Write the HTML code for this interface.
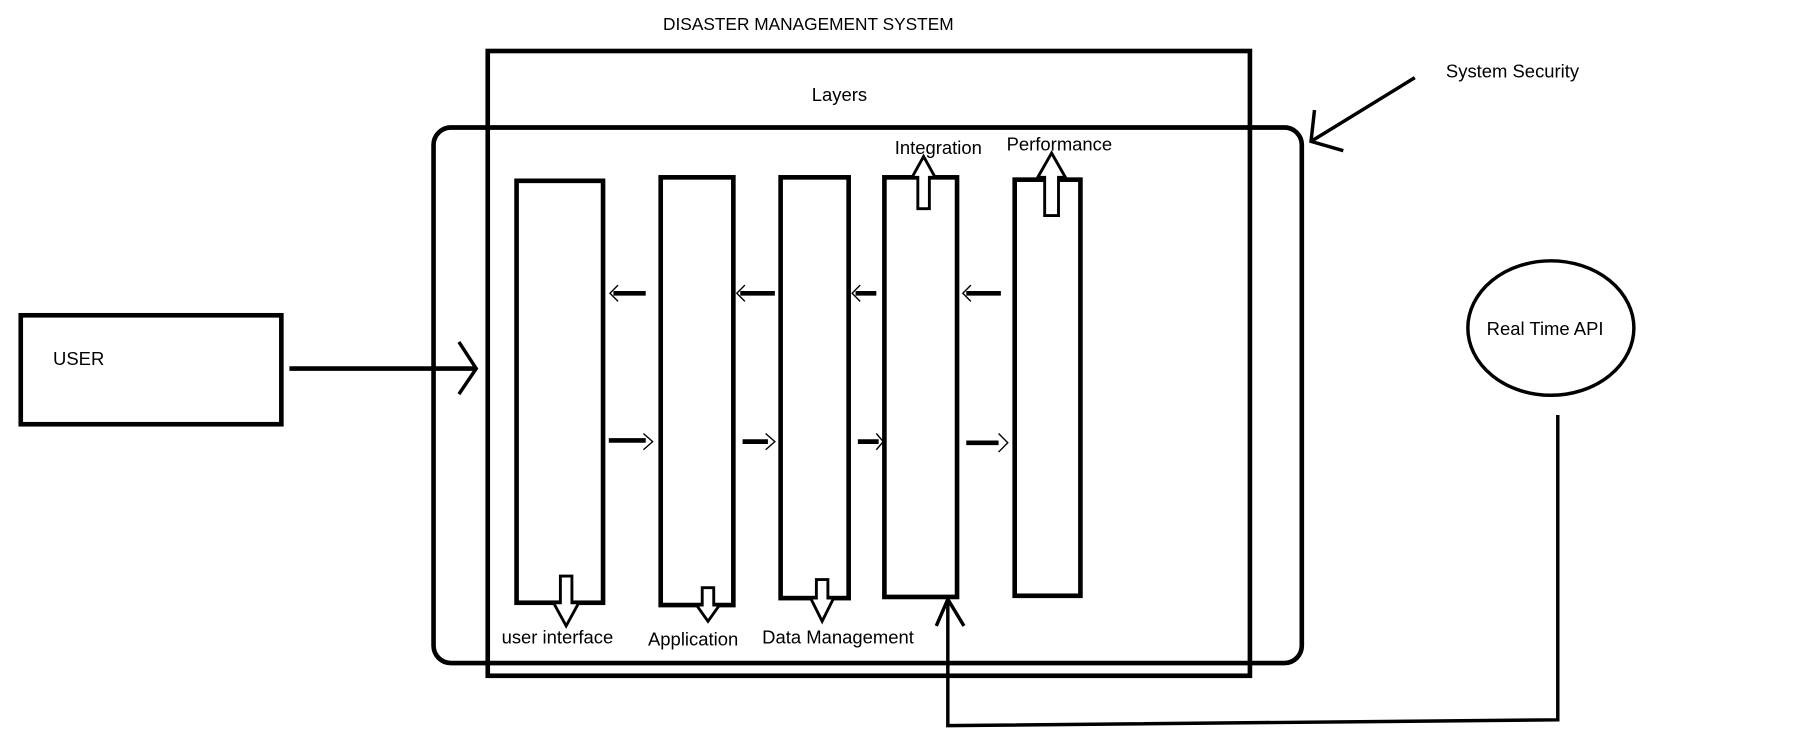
<!DOCTYPE html>
<html><head><style>html,body{margin:0;padding:0;background:#fff;}svg{display:block}</style></head>
<body>
<svg width="1808" height="743" viewBox="0 0 1568 641" preserveAspectRatio="none" xmlns="http://www.w3.org/2000/svg" font-family="Liberation Sans Narrow, Liberation Sans, sans-serif" font-size="16">
<g fill="none" stroke="#000" stroke-width="4">
<rect x="423" y="44" width="661" height="539"/>
<rect x="376" y="110" width="753" height="462" rx="15"/>
<rect x="18" y="272" width="226" height="94"/>
<rect x="448" y="156" width="75" height="364"/>
<rect x="573" y="153" width="63" height="369"/>
<rect x="677" y="153" width="59" height="363"/>
<rect x="767" y="153" width="63" height="362"/>
<rect x="880" y="155" width="57" height="359"/>
<ellipse cx="1345" cy="283" rx="72" ry="58" stroke-width="3"/>
<path d="M251 318 H413"/>
<path d="M398 295 L413 318 L398 340" stroke-width="3"/>
<path d="M1227 67 L1137 122" stroke-width="3"/>
<path d="M1140 95 L1137 122 L1165 130" stroke-width="3"/>
<path d="M1351 358 V621 L822 626 V518" stroke-width="3"/>
<path d="M812 540 L822 517 L836 540" stroke-width="3"/>
</g>
<g stroke="#000" stroke-width="4">
<path d="M532 253 H560 M642 253 H672 M742 253 H760 M838 253 H868"/>
<path d="M528 380 H560 M644 381 H666 M744 381 H762 M838 382 H866"/>
</g>
<g fill="none" stroke="#000" stroke-width="1.2">
<path d="M536 246 L529 253 L536 260 M646 246 L639 253 L646 260 M746 246 L739 253 L746 260 M842 246 L835 253 L842 260"/>
<path d="M558 374 L566 381 L558 388 M664 374 L672 381 L664 388 M760 374 L766 381 L760 388 M866 374 L874 382 L866 390"/>
</g>
<g fill="#fff" stroke="#000" stroke-width="2.5">
<path d="M486 497 H496 V520 H502 L491 540 L480 520 H486 Z"/>
<path d="M609 507 H619 V522 H624 L614 536 L604 522 H609 Z"/>
<path d="M708 500 H718 V516 H723 L713 536 L703 516 H708 Z"/>
<path d="M796 180 H806 V153 H811 L801 135 L791 153 H796 Z"/>
<path d="M906 186 H918 V153 H924 L912 132 L900 153 H906 Z"/>
</g>
<g fill="#000">
<text x="575" y="26" font-size="15">DISASTER MANAGEMENT SYSTEM</text>
<text x="728" y="87" text-anchor="middle">Layers</text>
<text x="1254" y="67">System Security</text>
<text x="46" y="315">USER</text>
<text x="1340" y="289" text-anchor="middle">Real Time API</text>
<text x="776" y="133">Integration</text>
<text x="873" y="130">Performance</text>
<text x="435" y="555">user interface</text>
<text x="562" y="557">Application</text>
<text x="661" y="555">Data Management</text>
</g>
</svg>
</body></html>
